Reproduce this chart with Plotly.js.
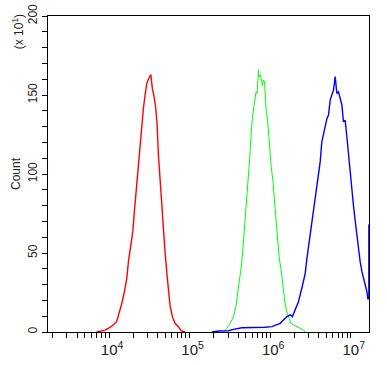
<!DOCTYPE html>
<html>
<head>
<meta charset="utf-8">
<script src="https://cdn.plot.ly/plotly-3.0.1.min.js"></script>
<style>html,body{margin:0;padding:0;background:#fff;}#chart{width:387px;height:365px;}</style>
</head>
<body>
<div id="chart"></div>
<script>
// Red histogram (intensity, count x10)
const redX = [7.0e3, 7.73e3, 8.91e3, 9.80e3, 1.13e4, 1.24e4, 1.33e4, 1.44e4, 1.55e4, 1.66e4, 1.74e4, 1.88e4, 1.97e4, 2.06e4, 2.16e4, 2.27e4, 2.38e4, 2.50e4, 2.67e4, 2.80e4, 2.94e4, 3.08e4, 3.17e4, 3.30e4, 3.45e4, 3.62e4, 3.80e4, 3.95e4, 4.10e4, 4.30e4, 4.51e4, 4.72e4, 4.95e4, 5.20e4, 5.45e4, 5.71e4, 6.11e4, 6.60e4, 7.26e4, 7.84e4, 8.79e4];
const redY = [0, 0.5, 1.2, 2.3, 4.4, 6.5, 11.8, 18, 25.5, 34, 44.5, 55, 63.5, 76, 89, 101, 114, 127, 141.6, 150, 157.4, 160, 161.6, 163, 154, 149, 141.6, 131, 112, 95, 78, 65.6, 51, 38, 25.5, 17, 9.7, 5.5, 3.4, 0.8, 0];

// Green histogram
const greenX = [2.63e5, 2.90e5, 3.18e5, 3.50e5, 3.75e5, 3.97e5, 4.16e5, 4.37e5, 4.58e5, 4.75e5, 4.93e5, 5.13e5, 5.28e5, 5.43e5, 5.59e5, 5.75e5, 5.97e5, 6.27e5, 6.50e5, 6.69e5, 6.89e5, 7.03e5, 7.15e5, 7.29e5, 7.51e5, 7.73e5, 8.02e5, 8.26e5, 8.50e5, 8.67e5, 8.92e5, 9.25e5, 9.52e5, 9.90e5, 1.03e6, 1.08e6, 1.12e6, 1.17e6, 1.22e6, 1.29e6, 1.37e6, 1.45e6, 1.53e6, 1.63e6, 1.72e6, 1.82e6, 1.95e6, 2.14e6, 2.36e6, 2.59e6, 2.72e6];
const greenY = [0, 2.3, 5.5, 9.7, 16, 24.5, 33, 41, 52, 62.5, 71, 83.5, 92, 102.5, 111, 121.5, 134, 142.6, 150, 152, 151, 160.5, 166, 161.6, 162.7, 160.5, 156, 159.5, 158.4, 152, 140.5, 135, 125.7, 113, 104.6, 96, 85.6, 71, 60.3, 47.6, 39, 26.6, 18, 11.8, 8.6, 5.5, 4.4, 3.4, 2.3, 1.3, 0];

// Blue histogram
const blueX = [1.89e5, 2.28e5, 3.03e5, 3.50e5, 4.45e5, 5.37e5, 7.15e5, 8.67e5, 1.05e6, 1.21e6, 1.33e6, 1.46e6, 1.61e6, 1.77e6, 1.89e6, 2.04e6, 2.24e6, 2.48e6, 2.72e6, 2.86e6, 3.05e6, 3.23e6, 3.45e6, 3.69e6, 3.91e6, 4.18e6, 4.38e6, 4.72e6, 5.06e6, 5.30e6, 5.56e6, 5.83e6, 6.11e6, 6.41e6, 6.73e6, 7.05e6, 7.40e6, 7.77e6, 8.13e6, 8.53e6, 8.96e6, 9.38e6, 9.86e6, 1.03e7, 1.08e7, 1.14e7, 1.19e7, 1.25e7, 1.31e7, 1.38e7, 1.44e7, 1.51e7, 1.59e7, 1.63e7, 1.68e7, 1.68e7];
const blueY = [0, 0.6, 0.8, 1.7, 2.7, 2.7, 2.7, 3, 3.4, 4.4, 5.5, 7.6, 9.7, 10.8, 9.7, 14, 19, 28, 37, 46.6, 57, 65.6, 76, 84.6, 95, 107.8, 120.4, 129, 135, 137.3, 146.8, 150, 153, 161.6, 151, 152, 148, 143.7, 133, 134, 123.6, 112, 101.5, 88.8, 80.4, 69.8, 61.4, 50.8, 44.5, 38, 34, 29.7, 25.5, 21, 21, 68];

const yTitle = "Count";
const yScaleNote = "(x 10<sup>1</sup>)";

const font = {family: "Arial, 'Liberation Sans', sans-serif", size: 12, color: "#222"};

const traces = [
  {x: redX, y: redY, type: "scatter", mode: "lines", line: {color: "#ff0000", width: 1.4}, hoverinfo: "skip"},
  {x: greenX, y: greenY, type: "scatter", mode: "lines", line: {color: "#00ff00", width: 1}, hoverinfo: "skip"},
  {x: blueX, y: blueY, type: "scatter", mode: "lines", line: {color: "#0000ff", width: 1.4}, hoverinfo: "skip"}
];

const layout = {
  width: 387, height: 365,
  margin: {l: 48, r: 18, t: 16, b: 33},
  paper_bgcolor: "#fff", plot_bgcolor: "#fff",
  showlegend: false,
  font: font,
  xaxis: {
    type: "log", range: [3.242, 7.227],
    dtick: 1, exponentformat: "power",
    showgrid: false, zeroline: false,
    showline: true, linecolor: "#000", linewidth: 1, mirror: true,
    ticks: "outside", ticklen: 5, tickcolor: "#000", tickwidth: 1,
    minor: {dtick: "D1", ticks: "outside", ticklen: 5, tickcolor: "#000", tickwidth: 1, showgrid: false},
    tickfont: font, ticklabelshift: 3
  },
  yaxis: {
    range: [0, 200], dtick: 50, tick0: 0,
    showgrid: false, zeroline: false,
    showline: true, linecolor: "#000", linewidth: 1, mirror: true,
    ticks: "outside", ticklen: 5, tickcolor: "#000", tickwidth: 1,
    minor: {dtick: 10, ticks: "outside", ticklen: 5, tickcolor: "#000", tickwidth: 1, showgrid: false},
    tickangle: -90, tickfont: font,
    title: {text: yTitle, font: font, standoff: 3}
  },
  annotations: [
    {text: yScaleNote, xref: "paper", yref: "paper", x: -0.095, y: 0.95, xanchor: "center", yanchor: "middle",
     textangle: -90, showarrow: false, font: font}
  ]
};

Plotly.newPlot("chart", traces, layout, {staticPlot: true, displayModeBar: false});
</script>
</body>
</html>
